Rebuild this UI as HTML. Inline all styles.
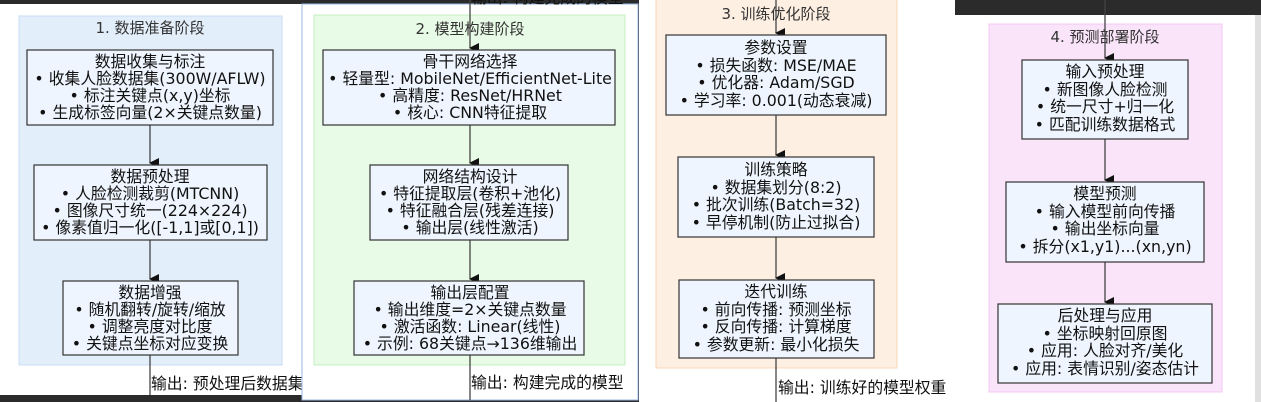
<!DOCTYPE html>
<html><head><meta charset="utf-8"><style>
html,body{margin:0;padding:0;background:#2b2b2b;}
svg{display:block;}
text{font-family:"DejaVu Sans","Liberation Sans","Noto Sans CJK SC",sans-serif;font-size:15.8px;fill:#111;}
.t{font-size:15px;fill:#333;}
</style></head><body>
<svg width="1261" height="402" viewBox="0 0 1261 402" xmlns="http://www.w3.org/2000/svg">
<defs><marker id="a" markerWidth="10" markerHeight="10" refX="5" refY="9" orient="auto" markerUnits="userSpaceOnUse"><path d="M0,0 L10,0 L5,10 Z" fill="#111"/></marker></defs>
<rect width="1261" height="402" fill="#2b2b2b"/>
<!-- panel 1 -->
<rect x="0" y="4" width="302" height="391" fill="#fff"/>
<rect x="19" y="16" width="263" height="349" fill="#e3eefb" stroke="#c8dcf6"/>
<text class="t" x="150" y="33" text-anchor="middle">1. 数据准备阶段</text>
<line x1="150" y1="125" x2="150" y2="163" stroke="#444" stroke-width="1.3" marker-end="url(#a)"/>
<line x1="150" y1="240" x2="150" y2="279" stroke="#444" stroke-width="1.3" marker-end="url(#a)"/>
<line x1="150" y1="355" x2="150" y2="395" stroke="#444" stroke-width="1.3"/>
<rect x="27" y="50" width="246" height="75" fill="#eef5fe" stroke="#333" stroke-width="1.2"/>
<g text-anchor="middle"><text x="150" y="67">数据收集与标注</text><text x="150" y="84">• 收集人脸数据集(300W/AFLW)</text><text x="150" y="101">• 标注关键点(x,y)坐标</text><text x="150" y="118">• 生成标签向量(2×关键点数量)</text></g>
<rect x="34" y="165" width="233" height="75" fill="#eef5fe" stroke="#333" stroke-width="1.2"/>
<g text-anchor="middle"><text x="150" y="182">数据预处理</text><text x="150" y="199">• 人脸检测裁剪(MTCNN)</text><text x="150" y="216">• 图像尺寸统一(224×224)</text><text x="150" y="233">• 像素值归一化([-1,1]或[0,1])</text></g>
<rect x="63" y="281" width="175" height="74" fill="#eef5fe" stroke="#333" stroke-width="1.2"/>
<g text-anchor="middle"><text x="150" y="298">数据增强</text><text x="150" y="315">• 随机翻转/旋转/缩放</text><text x="150" y="332">• 调整亮度对比度</text><text x="150" y="349">• 关键点坐标对应变换</text></g>
<text x="151" y="389">输出: 预处理后数据集</text>
<!-- panel 2 -->
<rect x="302" y="4" width="336" height="396" fill="#fff" stroke="#9ab8e0"/>
<text x="471" y="3">输出: 构建完成的模型</text>
<rect x="314" y="15" width="311" height="350" fill="#e8fbe6" stroke="#c6efc2"/>
<text class="t" x="470" y="34" text-anchor="middle">2. 模型构建阶段</text>
<line x1="470" y1="0" x2="470" y2="48" stroke="#444" stroke-width="1.3" marker-end="url(#a)"/>
<line x1="470" y1="125" x2="470" y2="163" stroke="#444" stroke-width="1.3" marker-end="url(#a)"/>
<line x1="470" y1="240" x2="470" y2="279" stroke="#444" stroke-width="1.3" marker-end="url(#a)"/>
<line x1="470" y1="355" x2="470" y2="400" stroke="#444" stroke-width="1.3"/>
<rect x="323" y="50" width="292" height="75" fill="#eef5fe" stroke="#333" stroke-width="1.2"/>
<g text-anchor="middle"><text x="470" y="67">骨干网络选择</text><text x="470" y="84">• 轻量型: MobileNet/EfficientNet-Lite</text><text x="470" y="101">• 高精度: ResNet/HRNet</text><text x="470" y="118">• 核心: CNN特征提取</text></g>
<rect x="370" y="165" width="198" height="75" fill="#eef5fe" stroke="#333" stroke-width="1.2"/>
<g text-anchor="middle"><text x="470" y="182">网络结构设计</text><text x="470" y="199">• 特征提取层(卷积+池化)</text><text x="470" y="216">• 特征融合层(残差连接)</text><text x="470" y="233">• 输出层(线性激活)</text></g>
<rect x="354" y="281" width="230" height="74" fill="#eef5fe" stroke="#333" stroke-width="1.2"/>
<g text-anchor="middle"><text x="470" y="298">输出层配置</text><text x="470" y="315">• 输出维度=2×关键点数量</text><text x="470" y="332">• 激活函数: Linear(线性)</text><text x="470" y="349">• 示例: 68关键点→136维输出</text></g>
<text x="471" y="388">输出: 构建完成的模型</text>
<!-- panel 3 -->
<rect x="639" y="0" width="316" height="402" fill="#fff"/>
<rect x="656" y="-2" width="241" height="370" fill="#fdefe2" stroke="#f9d6b4"/>
<text class="t" x="776" y="19" text-anchor="middle">3. 训练优化阶段</text>
<line x1="776" y1="0" x2="776" y2="33" stroke="#444" stroke-width="1.3" marker-end="url(#a)"/>
<line x1="776" y1="115" x2="776" y2="155" stroke="#444" stroke-width="1.3" marker-end="url(#a)"/>
<line x1="776" y1="237" x2="776" y2="278" stroke="#444" stroke-width="1.3" marker-end="url(#a)"/>
<line x1="776" y1="358" x2="776" y2="402" stroke="#444" stroke-width="1.3"/>
<rect x="666" y="35" width="220" height="80" fill="#eef5fe" stroke="#333" stroke-width="1.2"/>
<g text-anchor="middle"><text x="776" y="53">参数设置</text><text x="776" y="71">• 损失函数: MSE/MAE</text><text x="776" y="88">• 优化器: Adam/SGD</text><text x="776" y="106">• 学习率: 0.001(动态衰减)</text></g>
<rect x="678" y="157" width="196" height="80" fill="#eef5fe" stroke="#333" stroke-width="1.2"/>
<g text-anchor="middle"><text x="776" y="175">训练策略</text><text x="776" y="193">• 数据集划分(8:2)</text><text x="776" y="210">• 批次训练(Batch=32)</text><text x="776" y="228">• 早停机制(防止过拟合)</text></g>
<rect x="679" y="280" width="195" height="78" fill="#eef5fe" stroke="#333" stroke-width="1.2"/>
<g text-anchor="middle"><text x="776" y="297">迭代训练</text><text x="776" y="315">• 前向传播: 预测坐标</text><text x="776" y="332">• 反向传播: 计算梯度</text><text x="776" y="350">• 参数更新: 最小化损失</text></g>
<text x="778" y="393">输出: 训练好的模型权重</text>
<!-- panel 4 -->
<rect x="955" y="0" width="306" height="15" fill="#2b2b2b"/>
<rect x="955" y="15" width="300" height="387" fill="#fff"/>
<rect x="1255" y="15" width="6" height="387" fill="#e0e0e0"/>
<rect x="989" y="24" width="233" height="368" fill="#f9e4f9" stroke="#f4c8f4"/>
<text class="t" x="1105" y="42" text-anchor="middle">4. 预测部署阶段</text>
<line x1="1105" y1="0" x2="1105" y2="58" stroke="#444" stroke-width="1.3" marker-end="url(#a)"/>
<line x1="1105" y1="139" x2="1105" y2="180" stroke="#444" stroke-width="1.3" marker-end="url(#a)"/>
<line x1="1105" y1="262" x2="1105" y2="302" stroke="#444" stroke-width="1.3" marker-end="url(#a)"/>
<rect x="1022" y="60" width="166" height="79" fill="#eef5fe" stroke="#333" stroke-width="1.2"/>
<g text-anchor="middle"><text x="1105" y="77">输入预处理</text><text x="1105" y="95">• 新图像人脸检测</text><text x="1105" y="112">• 统一尺寸+归一化</text><text x="1105" y="130">• 匹配训练数据格式</text></g>
<rect x="1006" y="182" width="198" height="80" fill="#eef5fe" stroke="#333" stroke-width="1.2"/>
<g text-anchor="middle"><text x="1105" y="199">模型预测</text><text x="1105" y="217">• 输入模型前向传播</text><text x="1105" y="234">• 输出坐标向量</text><text x="1105" y="252">• 拆分(x1,y1)...(xn,yn)</text></g>
<rect x="998" y="304" width="214" height="79" fill="#eef5fe" stroke="#333" stroke-width="1.2"/>
<g text-anchor="middle"><text x="1105" y="321">后处理与应用</text><text x="1105" y="339">• 坐标映射回原图</text><text x="1105" y="356">• 应用: 人脸对齐/美化</text><text x="1105" y="374">• 应用: 表情识别/姿态估计</text></g>
</svg>
</body></html>
